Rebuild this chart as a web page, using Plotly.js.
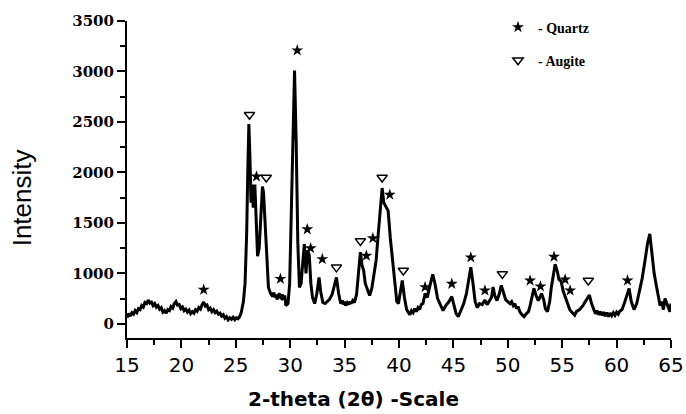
<!DOCTYPE html>
<html>
<head>
<meta charset="utf-8">
<script src="https://cdn.plot.ly/plotly-3.0.1.min.js"></script>
<style>html,body{margin:0;padding:0;background:#fff;}#chart{width:686px;height:414px;}</style>
</head>
<body>
<div id="chart"></div>
<script>
const twoTheta = [15.0,15.15,15.3,15.45,15.6,15.75,15.9,16.05,16.2,16.35,16.5,16.65,16.8,16.95,17.1,17.25,17.4,17.55,17.7,17.85,18.0,18.15,18.3,18.45,18.6,18.75,18.9,19.05,19.2,19.35,19.5,19.65,19.8,19.95,20.1,20.25,20.4,20.55,20.7,20.85,21.0,21.15,21.3,21.45,21.6,21.75,21.9,22.05,22.2,22.35,22.5,22.65,22.8,22.95,23.1,23.25,23.4,23.55,23.7,23.85,24.0,24.15,24.3,24.45,24.6,24.75,24.9,25.05,25.2,25.35,25.5,25.7,25.85,26.0,26.1,26.2,26.3,26.4,26.5,26.6,26.75,26.9,27.0,27.15,27.3,27.45,27.55,27.7,27.85,28.0,28.2,28.4,28.5,28.6,28.7,28.8,28.9,29.0,29.1,29.2,29.3,29.4,29.5,29.6,29.8,29.95,30.1,30.25,30.4,30.55,30.7,30.85,31.0,31.15,31.3,31.45,31.6,31.75,31.9,32.05,32.25,32.45,32.65,32.8,33.0,33.2,33.4,33.6,33.85,34.05,34.25,34.45,34.65,34.8,34.9,35.0,35.1,35.25,35.4,35.5,35.6,35.75,35.9,36.1,36.3,36.45,36.6,36.75,36.9,37.1,37.3,37.5,37.7,37.9,38.1,38.3,38.45,38.6,38.8,39.0,39.2,39.4,39.6,39.8,39.95,40.15,40.3,40.5,40.7,40.85,41.0,41.15,41.3,41.45,41.6,41.75,41.9,42.05,42.2,42.4,42.6,42.85,43.1,43.3,43.55,43.8,44.05,44.3,44.6,44.85,45.05,45.25,45.45,45.7,45.95,46.2,46.4,46.6,46.8,47.0,47.2,47.4,47.65,47.9,48.1,48.3,48.5,48.65,48.8,49.0,49.2,49.4,49.6,49.8,50.0,50.2,50.35,50.5,50.65,50.8,50.95,51.1,51.3,51.5,51.7,51.9,52.05,52.2,52.4,52.6,52.8,52.95,53.1,53.3,53.45,53.65,53.85,54.0,54.2,54.35,54.55,54.7,54.9,55.1,55.3,55.5,55.7,55.85,56.0,56.15,56.3,56.6,56.9,57.1,57.3,57.5,57.7,57.9,58.05,58.2,58.35,58.5,58.65,58.8,58.95,59.1,59.25,59.4,59.55,59.7,59.85,60.0,60.15,60.3,60.5,60.7,60.95,61.15,61.35,61.6,61.85,62.1,62.35,62.6,62.85,63.05,63.25,63.45,63.65,63.85,64.0,64.15,64.3,64.45,64.6,64.75,64.9,65.0];
const intensity = [560,600,575,610,595,630,610,650,640,680,665,710,700,735,705,715,680,700,665,680,645,660,615,630,605,640,630,670,655,700,720,685,690,650,665,630,645,615,635,600,620,605,640,625,660,645,690,715,675,685,640,655,620,640,610,625,595,605,575,590,555,570,540,560,545,565,540,560,550,570,610,720,900,1400,2000,2480,2150,1700,1880,1650,1880,1500,1170,1250,1550,1860,1800,1450,1100,860,800,770,810,760,790,740,780,800,760,750,790,740,780,680,700,900,1600,2400,3010,2300,1300,860,900,1100,1290,1000,1230,1180,900,760,700,800,960,820,710,700,720,740,790,880,960,800,700,730,690,720,680,710,690,720,700,730,710,790,1050,1210,1080,1030,900,840,780,850,1000,1130,1400,1700,1845,1700,1660,1620,1350,1120,880,720,700,850,930,760,640,615,590,630,610,650,620,660,640,690,700,800,760,880,990,900,750,690,630,680,720,770,680,600,570,640,700,800,950,1060,900,720,660,700,690,735,690,720,760,865,780,730,790,880,800,740,720,700,720,680,700,650,670,620,590,570,600,620,680,760,850,780,730,760,800,740,650,620,720,860,980,1090,1020,940,920,820,760,700,640,620,600,585,620,640,680,720,760,785,700,640,600,630,590,620,585,615,575,610,570,605,580,610,585,615,595,625,640,700,780,850,720,640,700,820,950,1120,1300,1390,1200,1000,880,760,680,720,640,750,700,660,620,700,660];

// Phase markers (position, height of the symbol)
const quartzX = [22.05,26.9,29.1,30.65,31.57,31.88,32.95,37.0,37.6,39.15,42.4,44.85,46.6,47.9,52.05,53.0,54.25,55.27,55.73,61.0];
const quartzY = [837,1959,945,3209,1436,1249,1141,1174,1348,1779,863,896,1157,830,928,870,1164,938,830,929];
const augiteX = [26.26,27.8,34.25,36.45,38.45,40.4,49.5,57.4];
const augiteY = [2571,1949,1059,1321,1949,1027,994,929];

const yTickVals = [500,1000,1500,2000,2500,3000,3500];
const yTickText = ['0','1000','1500','2000','2500','3000','3500'];
const xTickVals = [15,20,25,30,35,40,45,50,55,60,65];

const traces = [
  {x: twoTheta, y: intensity, type: 'scatter', mode: 'lines',
   line: {color: '#000', width: 3}, showlegend: false, hoverinfo: 'skip'},
  {x: quartzX, y: quartzY, type: 'scatter', mode: 'markers', name: '- Quartz',
   legendgroup: 'q', marker: {symbol: 'star', size: 9, color: '#000'}},
  {x: augiteX, y: augiteY, type: 'scatter', mode: 'markers', name: '- Augite',
   legendgroup: 'a', marker: {symbol: 'triangle-down-open', size: 9, color: '#000', line: {width: 1.5, color: '#000'}}}
];

const layout = {
  width: 686, height: 414,
  margin: {l: 127, r: 15, t: 18, b: 76},
  paper_bgcolor: '#fff', plot_bgcolor: '#fff',
  showlegend: true,
  legend: {x: 0.682, y: 1.03, xanchor: 'left', yanchor: 'top', bgcolor: 'rgba(0,0,0,0)',
           tracegroupgap: 12, itemwidth: 30, font: {family: 'Liberation Serif', size: 14, color: '#000', weight: 700}},
  xaxis: {range: [15, 65], tickmode: 'array', tickvals: xTickVals, ticks: 'outside', ticklen: 8, tickwidth: 2,
          tickcolor: '#000', showline: true, linecolor: '#000', linewidth: 2, showgrid: false, zeroline: false,
          minor: {dtick: 2.5, tick0: 15, ticks: 'outside', ticklen: 5, tickwidth: 2, tickcolor: '#000', showgrid: false},
          tickfont: {family: 'DejaVu Sans', size: 20, color: '#000'}},
  yaxis: {range: [359, 3500], tickmode: 'array', tickvals: yTickVals, ticktext: yTickText, ticks: 'outside', ticklen: 8, tickwidth: 2,
          tickcolor: '#000', showline: true, linecolor: '#000', linewidth: 2, showgrid: false, zeroline: false,
          minor: {tickvals: [750,1250,1750,2250,2750,3250], ticks: 'outside', ticklen: 5, tickwidth: 2, tickcolor: '#000', showgrid: false},
          tickfont: {family: 'DejaVu Serif', size: 15, color: '#000', weight: 700}},
  annotations: [
    {text: '2-theta (2θ) -Scale', xref: 'paper', yref: 'paper', x: (353-127)/544, y: -(400-338)/320,
     xanchor: 'center', yanchor: 'middle', showarrow: false,
     font: {family: 'DejaVu Sans', size: 20, color: '#000', weight: 700}},
    {text: 'Intensity', xref: 'paper', yref: 'paper', x: (22-127)/544, y: (338-197)/320,
     xanchor: 'center', yanchor: 'middle', textangle: -90, showarrow: false,
     font: {family: 'Liberation Sans', size: 26, color: '#000'}}
  ]
};

Plotly.newPlot('chart', traces, layout, {staticPlot: true, displayModeBar: false});
</script>
</body>
</html>
